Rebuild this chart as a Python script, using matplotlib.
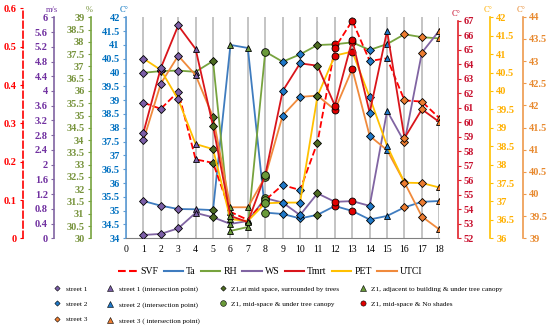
import matplotlib
matplotlib.use("Agg")
import matplotlib.pyplot as plt
from matplotlib.lines import Line2D
from matplotlib.ticker import MultipleLocator, FuncFormatter

plt.rcParams['font.family'] = ['Liberation Serif', 'DejaVu Serif']

########## Data ##########

points = list(range(1, 19))
point_type = ["s1", "s1", "s1", "s1i", "z1t", "z1a", "z1a", "z1c", "s2",
              "s2", "z1t", "z1n", "z1n", "s2", "s2i", "s3", "s3", "s3i"]

svf = [0.354, 0.338, 0.383, 0.206, 0.197, 0.069, 0.048, 0.100, 0.139,
       0.126, 0.250, 0.497, 0.568, 0.463, 0.470, 0.360, 0.357, 0.314]
ta = [35.35, 35.18, 35.06, 35.05, 35.02, 41.00, 40.89, 34.93, 34.88,
      34.72, 34.85, 35.17, 34.99, 34.68, 34.81, 35.12, 35.32, 35.35]
rh = [36.74, 36.81, 36.83, 36.78, 37.22, 30.30, 30.46, 37.60, 37.19,
      37.49, 37.87, 37.90, 37.98, 37.67, 37.91, 38.31, 38.19, 38.14]
ws = [0.09, 0.12, 0.27, 0.69, 0.57, 0.39, 0.47, 1.09, 0.97,
      0.63, 1.22, 0.99, 1.01, 0.88, 3.46, 2.61, 5.04, 5.64]
tmrt = [59.28, 63.74, 66.67, 65.05, 59.74, 53.54, 53.12, 56.36, 62.15,
        64.06, 63.90, 61.15, 65.67, 60.66, 66.30, 58.91, 60.89, 60.02]
pet = [40.88, 40.57, 39.77, 38.56, 38.42, 36.52, 36.47, 36.95, 36.97,
       36.97, 39.86, 40.96, 41.07, 39.83, 38.51, 37.51, 37.50, 37.38]
utci = [41.21, 42.49, 43.12, 42.68, 41.74, 39.70, 39.70, 40.39, 41.77,
        42.19, 42.22, 41.90, 42.82, 41.31, 40.99, 40.26, 39.49, 39.20]

marker_labels = {
    "s1": "street 1",
    "s2": "street 2",
    "s3": "street 3",
    "s1i": "street 1 (intersection point)",
    "s2i": "street 2 (intersection point)",
    "s3i": "street 3 ( intersection point)",
    "z1t": "Z1,at mid space, surrounded by trees",
    "z1c": "Z1, mid-space & under tree canopy",
    "z1a": "Z1, adjacent to building & under tree canopy",
    "z1n": "Z1, mid-space & No shades",
}

###########################

marker_style = {
    "s1": dict(marker="D", color="#7B5EA7", ms=3.6),
    "s2": dict(marker="D", color="#1F78C8", ms=3.6),
    "s3": dict(marker="D", color="#ED7D31", ms=3.6),
    "s1i": dict(marker="^", color="#7B5EA7", ms=5),
    "s2i": dict(marker="^", color="#1F78C8", ms=5),
    "s3i": dict(marker="^", color="#ED7D31", ms=5),
    "z1t": dict(marker="D", color="#4E6B22", ms=3.6),
    "z1c": dict(marker="o", color="#6A9A3A", ms=5.5),
    "z1a": dict(marker="^", color="#6A9A3A", ms=5),
    "z1n": dict(marker="o", color="#E00000", ms=5),
}

W, H = 550, 326
PL, PR, PB = 126, 439.3, 238.3


def fmt(v, pos):
    return f"{round(v, 3):g}"


fig = plt.figure(figsize=(W / 100, H / 100), dpi=100)


def new_axes(top_px):
    return fig.add_axes([PL / W, 1 - PB / H, (PR - PL) / W, (PB - top_px) / H])


# name, values, top px, spine px, side, ylim, step, spine col, label col, line col, linestyle, unit
axes_spec = [
    ("Ta", ta, 17.3, PL, "left", (34, 42), 0.5, "#5B9BD5", "#0070C0", "#3F7CBF", "-", "C°"),
    ("SVF", svf, 8.5, 22.7, "left", (0, 0.6), 0.1, "#FF0000", "#FF0000", "#FF0000", "--", ""),
    ("WS", ws, 17.3, 54, "left", (0, 6), 0.4, "#8064A2", "#7030A0", "#8064A2", "-", "m/s"),
    ("RH", rh, 17.3, 90.7, "left", (30, 39), 0.5, "#77A33E", "#77933C", "#77A33E", "-", "%"),
    ("Tmrt", tmrt, 20.7, 457.7, "right", (52, 67), 1, "#E0202A", "#C8102E", "#D9151B", "-", "C°"),
    ("PET", pet, 17.3, 490, "right", (36, 42), 0.5, "#FFC000", "#FFB000", "#FFC000", "-", "C°"),
    ("UTCI", utci, 16.7, 523, "right", (39, 44), 0.5, "#EE9A4D", "#E88A30", "#F08A3C", "-", "C°"),
]

draw_order = ["Ta", "RH", "WS", "SVF", "UTCI", "PET", "Tmrt"]
spec_by_name = {s[0]: s for s in axes_spec}

main_ax = new_axes(17.3)
main_ax.set_xlim(0, 18)
main_ax.set_xticks(range(0, 19))
main_ax.tick_params(axis="x", length=0, pad=5, labelsize=7)
main_ax.grid(axis="x", color="#BFBFBF", linewidth=1.3)
main_ax.set_axisbelow(True)
for s in ["top", "right"]:
    main_ax.spines[s].set_visible(False)
main_ax.spines["bottom"].set_color("#808080")

legend_lines = []
for name in ["SVF", "Ta", "RH", "WS", "Tmrt", "PET", "UTCI"]:
    spec = spec_by_name[name]
    legend_lines.append(Line2D([], [], color=spec[9], linestyle=spec[10], lw=1.5))

for name in draw_order:
    (_, vals, top, spine_px, side, ylim, step, scol, lcol, col, ls, unit) = spec_by_name[name]
    if name == "Ta":
        ax = main_ax
    else:
        ax = new_axes(top)
        ax.patch.set_visible(False)
        ax.set_xlim(0, 18)
        ax.xaxis.set_visible(False)
        for s in ax.spines.values():
            s.set_visible(False)
    ax.set_ylim(*ylim)
    ax.yaxis.set_major_locator(MultipleLocator(step))
    ax.yaxis.set_major_formatter(FuncFormatter(fmt))
    ax.yaxis.set_ticks_position(side)
    sp = ax.spines[side]
    sp.set_visible(True)
    sp.set_color(scol)
    sp.set_linewidth(1.2)
    if ls == "--":
        sp.set_linestyle((0, (4, 2)))
    frac = (spine_px - PL) / (PR - PL)
    sp.set_position(("axes", frac))
    ax.tick_params(axis="y", which="both", direction="out", length=2.5, width=0.8,
                   color=scol, labelcolor=lcol, labelsize=7.5, pad=2)
    for lab in ax.get_yticklabels():
        lab.set_fontweight("bold")
    ax.plot(points, vals, color=col, linestyle=ls, lw=1.3, zorder=2)
    for key, st in marker_style.items():
        xs = [p for p, t in zip(points, point_type) if t == key]
        ys = [v for v, t in zip(vals, point_type) if t == key]
        if xs:
            ax.plot(xs, ys, linestyle="none", marker=st["marker"], ms=st["ms"],
                    markerfacecolor=st["color"], markeredgecolor="black",
                    markeredgewidth=0.6, zorder=3)
    if unit:
        fig.text((spine_px - 2) / W, 1 - (top - 7) / H, unit, color=lcol, fontsize=6,
                 ha="center", va="center")

fig.legend(legend_lines, ["SVF", "Ta", "RH", "WS", "Tmrt", "PET", "UTCI"],
           loc="center", bbox_to_anchor=(270 / W, 1 - 271.7 / H), ncol=7,
           frameon=False, fontsize=7, handlelength=2.0, handletextpad=0.3,
           columnspacing=0.55)

order = ["s1", "s2", "s3", "s1i", "s2i", "s3i", "z1t", "z1c", None, "z1a", "z1n", None]
mh, ml = [], []
for key in order:
    if key is None:
        mh.append(Line2D([], [], linestyle="none"))
        ml.append("")
    else:
        st = marker_style[key]
        mh.append(Line2D([], [], linestyle="none", marker=st["marker"], ms=st["ms"] * 0.75,
                         markerfacecolor=st["color"], markeredgecolor="black",
                         markeredgewidth=0.4))
        ml.append(marker_labels[key])

fig.legend(mh, ml, loc="upper left", bbox_to_anchor=(54 / W, 1 - 285.5 / H), ncol=4,
           frameon=False, fontsize=5.2, handlelength=0.8, handletextpad=0.8,
           columnspacing=2.8, labelspacing=1.3, borderpad=0, borderaxespad=0)

fig.savefig("out.png", dpi=100)
